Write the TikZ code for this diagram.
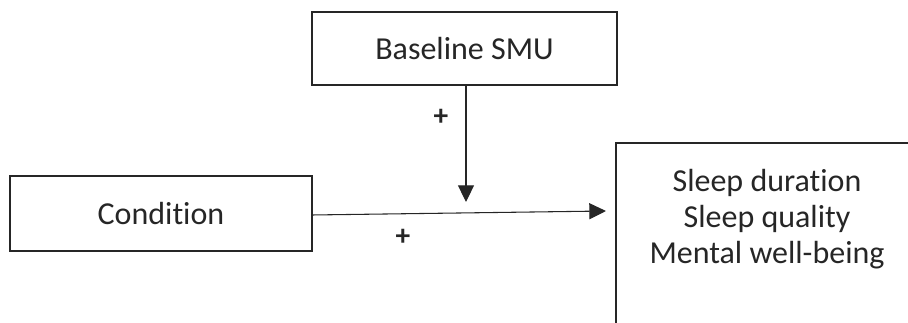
\documentclass[tikz,border=0pt]{standalone}
\usepackage{fontspec}
\setmainfont{Carlito}[Ligatures=NoCommon]
\usetikzlibrary{arrows.meta}
\begin{document}
\begin{tikzpicture}[x=0.75pt,y=-0.75pt,
  box/.style={draw=black!85,line width=1.5pt,rectangle,inner sep=0pt,
    font=\fontsize{24}{27}\selectfont,text=black!85},
  link/.style={draw=black!85,line width=0.8pt,
    -{Triangle[length=12.5pt,width=12pt]}},
  sign/.style={font=\fontsize{22}{24}\selectfont\bfseries,text=black!85}]
  \useasboundingbox (0,0) rectangle (908,323);
  \clip (0,0) rectangle (908,323);
  % predictor, moderator and outcomes
  \node[box,minimum width=228.75pt,minimum height=54.75pt] (smu) at (464.5,48.5) {Baseline SMU};
  \node[box,minimum width=226.5pt,minimum height=56.25pt] (cond) at (161,213.5) {Condition};
  \node[box,minimum width=226.5pt,minimum height=165pt] (out) at (767,253) {};
  \node[font=\fontsize{24}{27}\selectfont,text=black!85,align=center] (outtxt) at (767,219)
    {Sleep duration\\Sleep quality\\Mental well-being};
  % path ends
  \coordinate (mid) at (466,202);
  \coordinate (hit) at (606,211);
  \coordinate (cstart) at (312,215);
  % arrows
  \draw[link] (smu.south -| mid) -- (mid);
  \draw[link] (cstart) -- (hit);
  % signs
  \node[sign] (p1) at (441,117) {+};
  \node[sign] (p2) at (403,237) {+};
\end{tikzpicture}
\end{document}
